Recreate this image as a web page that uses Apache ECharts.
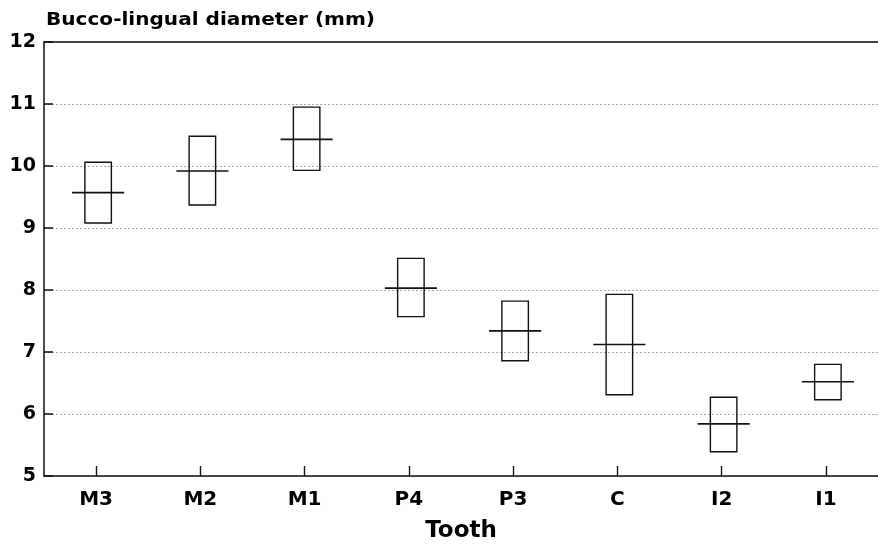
<!DOCTYPE html>
<html>
<head>
<meta charset="utf-8">
<script src="https://cdn.jsdelivr.net/npm/echarts@6/dist/echarts.min.js"></script>
<style>html,body{margin:0;padding:0;background:#fff}#c{width:878px;height:551px}</style>
</head>
<body>
<div id="c"></div>
<script>
const teeth = ['M3', 'M2', 'M1', 'P4', 'P3', 'C', 'I2', 'I1'];
const upper = [10.06, 10.48, 10.95, 8.51, 7.82, 7.93, 6.27, 6.80];
const lower = [9.08, 9.37, 9.93, 7.57, 6.86, 6.31, 5.39, 6.23];
const means = [9.57, 9.92, 10.43, 8.03, 7.34, 7.12, 5.84, 6.52];
const yMin = 5, yMax = 12, yStep = 1;
const yTitle = 'Bucco-lingual diameter (mm)';
const xTitle = 'Tooth';

const data = teeth.map((t, i) => [i, lower[i], upper[i], means[i]]);
const FONT = '"DejaVu Sans", sans-serif';
const chart = echarts.init(document.getElementById('c'), null, {renderer: 'canvas'});
chart.setOption({
  animation: false,
  backgroundColor: '#fff',
  grid: {left: 44, top: 42, width: 838, bottom: 75, containLabel: false},
  graphic: [{
    type: 'text', x: 46, y: 21, scaleX: 1.18,
    style: {text: yTitle, fill: '#000', font: 'bold 17px ' + FONT, textAlign: 'left', textVerticalAlign: 'middle'}
  }],
  xAxis: [{
    type: 'category', data: teeth, boundaryGap: true,
    axisLine: {show: true, lineStyle: {color: '#111', width: 1.5}},
    axisTick: {show: true, inside: true, alignWithLabel: true, length: 10, lineStyle: {color: '#111', width: 1.4}},
    axisLabel: {color: '#000', fontFamily: FONT, fontWeight: 'bold', fontSize: 20, margin: 14},
    splitLine: {show: false},
    name: xTitle, nameLocation: 'middle', nameGap: 44,
    nameTextStyle: {color: '#000', fontFamily: FONT, fontWeight: 'bold', fontSize: 23}
  }, {
    type: 'category', data: teeth, position: 'top',
    axisLine: {show: true, lineStyle: {color: '#111', width: 1.5}},
    axisTick: {show: false}, axisLabel: {show: false}
  }],
  yAxis: {
    type: 'value', min: yMin, max: yMax, interval: yStep,
    axisLine: {show: true, lineStyle: {color: '#111', width: 1.5}},
    axisTick: {show: true, inside: true, length: 9, lineStyle: {color: '#111', width: 1.5}},
    axisLabel: {color: '#000', fontFamily: FONT, fontWeight: 'bold', fontSize: 19, margin: 8},
    splitLine: {show: true, lineStyle: {color: '#aaa', type: [2, 2], width: 1}}
  },
  series: [{
    type: 'custom',
    data: data,
    encode: {x: 0, y: [1, 2, 3]},
    renderItem: function (params, api) {
      const idx = api.value(0);
      const lo = api.coord([idx, api.value(1)]);
      const hi = api.coord([idx, api.value(2)]);
      const mn = api.coord([idx, api.value(3)]);
      const band = api.size([1, 0])[0];
      const bw = band * 0.254, mw = band * 0.5;
      const cx = lo[0] + 2;
      return {
        type: 'group',
        children: [{
          type: 'rect',
          shape: {x: cx - bw / 2, y: hi[1], width: bw, height: lo[1] - hi[1]},
          style: {fill: 'none', stroke: '#111', lineWidth: 1.4}
        }, {
          type: 'line',
          shape: {x1: cx - mw / 2, y1: mn[1], x2: cx + mw / 2, y2: mn[1]},
          style: {stroke: '#111', lineWidth: 1.6}
        }]
      };
    }
  }]
});
</script>
</body>
</html>
